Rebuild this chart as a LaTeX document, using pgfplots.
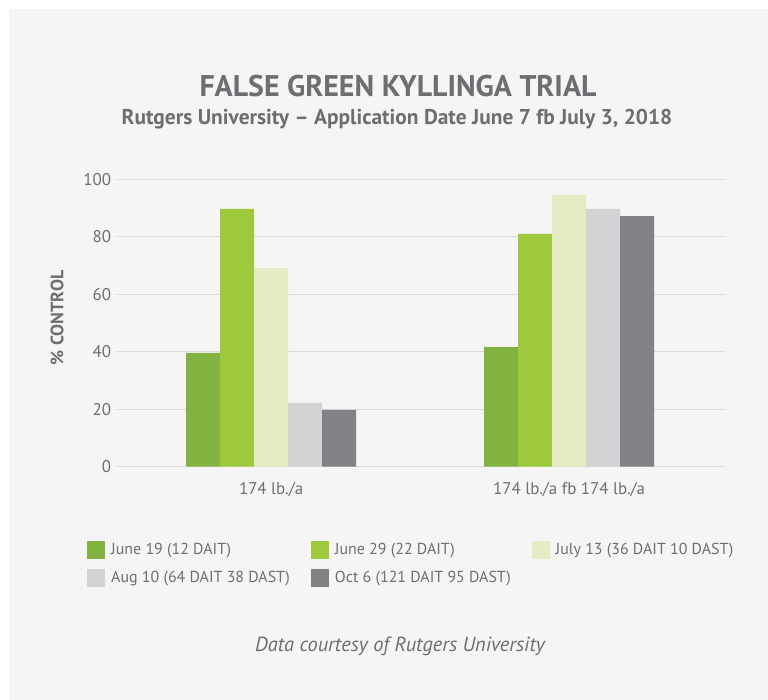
\documentclass[border=0pt]{standalone}
\usepackage{fontspec}
\setmainfont{PT Sans}
\usepackage{pgfplots}
\pgfplotsset{compat=1.18}
\definecolor{cA}{HTML}{82B240}
\definecolor{cB}{HTML}{9FC93C}
\definecolor{cC}{HTML}{E3ECC2}
\definecolor{cD}{HTML}{D1D3D4}
\definecolor{cE}{HTML}{808285}
\definecolor{gridc}{HTML}{DADADA}
\definecolor{panel}{HTML}{F5F5F5}
\definecolor{textc}{HTML}{6D6E71}
\begin{document}
\begin{tikzpicture}[x=1bp,y=1bp]
\fill[white] (0,0) rectangle (768,700);
\fill[panel] (9,0) rectangle (768,691);
\begin{axis}[
  at={(116.7bp,233.3bp)}, anchor=south west,
  scale only axis, width=608.3bp, height=287.4bp,
  ybar=0pt, bar width=34bp,
  xmin=-0.518, xmax=1.523, ymin=0, ymax=100,
  xtick={0,1}, xticklabels={174 lb./a, 174 lb./a fb 174 lb./a},
  ytick={0,20,40,60,80,100},
  ymajorgrids, grid style={draw=gridc, line width=1.3bp},
  axis line style={draw=none}, major tick length=0pt,
  tick label style={font=\fontsize{17}{20}\selectfont, text=textc},
  /pgf/number format/assume math mode=true,
  yticklabel style={xshift=-2bp},
  xticklabel style={yshift=-12bp},
  legend columns=3,
  legend cell align=left,
  legend image code/.code={\fill[#1,draw=none] (0bp,-9bp) rectangle (18bp,9bp);},
  legend style={at={(-0.0488,-0.258)}, anchor=north west, draw=none, fill=none,
    font=\fontsize{16}{18}\selectfont, text=textc, inner sep=0pt, row sep=10bp,
    nodes={text height=11bp, text depth=3bp, inner sep=2bp},
    /tikz/every odd column/.append style={column sep=4bp},
    /tikz/every even column/.append style={column sep=19bp}},
]
\addplot[fill=cA, draw=none] coordinates {(0,39.6) (1,41.6)};
\addplot[fill=cB, draw=none] coordinates {(0,89.7) (1,81.0)};
\addplot[fill=cC, draw=none] coordinates {(0,69.1) (1,94.6)};
\addplot[fill=cD, draw=none] coordinates {(0,22.2) (1,89.7)};
\addplot[fill=cE, draw=none] coordinates {(0,19.8) (1,87.2)};
\legend{June 19 (12 DAIT), June 29 (22 DAIT), July 13 (36 DAIT 10 DAST), Aug 10 (64 DAIT 38 DAST), Oct 6 (121 DAIT 95 DAST)}
\end{axis}
\node[anchor=base, text=textc, font=\bfseries\fontsize{30}{34}\selectfont] at (398,603) {FALSE GREEN KYLLINGA TRIAL};
\node[anchor=base, text=textc, font=\bfseries\fontsize{21.5}{25}\selectfont] at (397,575) {Rutgers University – Application Date June 7 fb July 3, 2018};
\node[rotate=90, text=textc, font=\bfseries\fontsize{18}{21}\selectfont] at (57,382) {\% CONTROL};
\node[anchor=base, text=textc, font=\itshape\fontsize{20.5}{24}\selectfont] at (400,48) {Data courtesy of Rutgers University};
\end{tikzpicture}
\end{document}
